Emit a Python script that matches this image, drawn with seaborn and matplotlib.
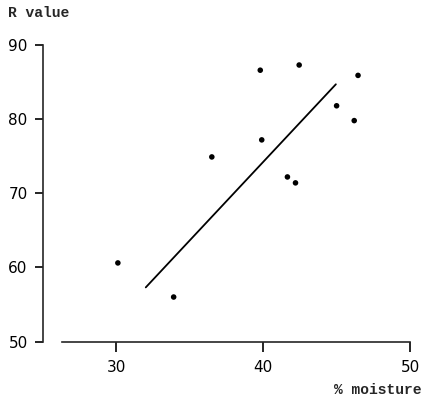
import matplotlib
matplotlib.use("Agg")
import matplotlib.pyplot as plt
import seaborn as sns
import pandas as pd

# data
moisture = [30.1, 33.9, 36.5, 39.8, 39.9, 41.65, 42.2, 42.45, 45.0, 46.2, 46.46]
r_value = [60.6, 56.0, 74.9, 86.6, 77.2, 72.2, 71.4, 87.3, 81.8, 79.8, 85.9]
fit_x = [32.0, 44.95]
fit_y = [57.3, 84.7]
x_ticks = [30, 40, 50]
y_ticks = [50, 60, 70, 80, 90]

df = pd.DataFrame({'moisture': moisture, 'R': r_value})
fit = pd.DataFrame({'x': fit_x, 'y': fit_y})

sns.set_theme(style="ticks")
plt.rcParams['font.family'] = ['DejaVu Sans']

fig = plt.figure(figsize=(4.22, 4.0), dpi=100)
ax = fig.add_axes([43 / 422, (400 - 341.5) / 400, (410 - 43) / 422, (341.5 - 45) / 400])

sns.scatterplot(data=df, x='moisture', y='R', ax=ax, color='black', s=16,
                edgecolor='none', zorder=3)
sns.lineplot(data=fit, x='x', y='y', ax=ax, color='black', linewidth=1.3)

ax.set_xlim(25, 50)
ax.set_ylim(50, 90)
ax.set_xticks(x_ticks)
ax.set_yticks(y_ticks)
ax.set_xlabel('')
ax.set_ylabel('')
ax.spines['top'].set_visible(False)
ax.spines['right'].set_visible(False)
ax.spines['left'].set_linewidth(1.2)
ax.spines['bottom'].set_linewidth(1.2)
ax.spines['bottom'].set_bounds(26.3, 50)
ax.tick_params(axis='x', length=7, width=1.2, pad=6, labelsize=11, colors='black')
ax.tick_params(axis='y', length=6, width=1.2, pad=5, labelsize=11, colors='black')

fig.text(8 / 422, 1 - 13 / 400, 'R value', family='Liberation Mono', fontsize=10.5,
         fontweight='bold', ha='left', va='center')
fig.text(421 / 422, 1 - 390 / 400, '% moisture', family='Liberation Mono', fontsize=10.5,
         fontweight='bold', ha='right', va='center')

fig.savefig('out.png', dpi=100)
